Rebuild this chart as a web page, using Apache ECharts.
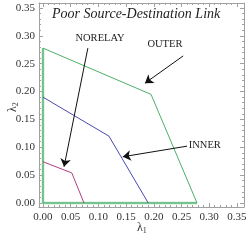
<!DOCTYPE html>
<html><head><meta charset="utf-8">
<script src="https://cdn.jsdelivr.net/npm/echarts@6/dist/echarts.min.js"></script>
<style>html,body{margin:0;padding:0;background:#fff}#c{width:250px;height:241px}</style>
</head><body><div id="c"></div>
<script>
// Data (region vertices, lambda1, lambda2)
const outerX = [0, 0, 0.195, 0.278, 0];
const outerY = [0, 0.278, 0.195, 0, 0];
const innerX = [0, 0.119, 0.19];
const innerY = [0.19, 0.12, 0];
const norelayX = [0, 0.052, 0.074];
const norelayY = [0.074, 0.054, 0];
const axisEdgeX = [0, 0, 0.278];
const axisEdgeY = [0.278, 0, 0];
const tickLabels = [0, 0.05, 0.10, 0.15, 0.20, 0.25, 0.30, 0.35];
const minorTicks = [];
for (let i = 0; i <= 35; i++) minorTicks.push(+(i * 0.01).toFixed(2));
// annotations: [label, textX, textY, fromX, fromY, toX, toY]
const notes = [
  ['NORELAY', 0.103, 0.296, 0.081, 0.278, 0.038, 0.065],
  ['OUTER', 0.220, 0.285, 0.253, 0.264, 0.184, 0.215],
  ['INNER', 0.292, 0.104, 0.260, 0.102, 0.144, 0.083]
];

const zip = (a, b) => a.map((v, i) => [v, b[i]]);
const serif = 'Liberation Serif';
const frame = '#a0a0a0';
const xmin = -0.0072, xmax = 0.3628, ymin = -0.0072, ymax = 0.359;

function mkAxis(kind, pos, major, withLabel) {
  return {
    type: 'value', position: pos, min: kind === 'x' ? xmin : ymin, max: kind === 'x' ? xmax : ymax,
    axisLine: { show: major, onZero: false, lineStyle: { color: frame, width: 1 } },
    splitLine: { show: false },
    axisTick: { show: true, inside: true, length: major ? 4 : 2, customValues: major ? tickLabels : minorTicks, lineStyle: { color: frame } },
    axisLabel: { show: withLabel, customValues: tickLabels, fontFamily: serif, fontSize: 11, color: '#333', margin: kind === 'x' ? 5 : 4,
      formatter: v => v.toFixed(2) }
  };
}
const xAxes = [mkAxis('x', 'bottom', true, true), mkAxis('x', 'bottom', false, false), mkAxis('x', 'top', true, false), mkAxis('x', 'top', false, false)];
const yAxes = [mkAxis('y', 'left', true, true), mkAxis('y', 'left', false, false), mkAxis('y', 'right', true, false), mkAxis('y', 'right', false, false)];

const line = (data, color, width) => ({ type: 'line', data, symbol: 'none', silent: true, animation: false, lineStyle: { color, width } });

const series = [
  line(zip(axisEdgeX, axisEdgeY), '#9fd6b4', 2.5),
  line(zip(outerX, outerY), '#4cb068', 1),
  line(zip(innerX, innerY), '#4a4ab0', 1),
  line(zip(norelayX, norelayY), '#b0407e', 1),
  {
    type: 'line', data: [], animation: false, silent: true,
    markLine: {
      silent: true, animation: false, symbol: ['none', 'arrow'], symbolSize: 8,
      label: { show: false },
      lineStyle: { color: '#111', width: 1, type: 'solid' },
      data: notes.map(n => [{ coord: [n[3], n[4]] }, { coord: [n[5], n[6]] }])
    },
    markPoint: {
      silent: true, animation: false, symbol: 'circle', symbolSize: 0,
      label: { show: true, position: 'inside', fontFamily: serif, fontSize: 10.5, color: '#222', formatter: p => p.name },
      data: notes.map(n => ({ name: n[0], coord: [n[1], n[2]] }))
    }
  }
];

const chart = echarts.init(document.getElementById('c'), null, { renderer: 'canvas' });
const sub = { a: { font: '12px "Liberation Serif"', fill: '#333' }, b: { font: '8px "Liberation Serif"', fill: '#333', padding: [7, 0, 0, 0] } };
chart.setOption({
  animation: false,
  backgroundColor: '#fff',
  grid: { left: 39, right: 6, top: 3, bottom: 34, containLabel: false },
  xAxis: xAxes, yAxis: yAxes, series,
  graphic: [
    { type: 'text', left: 52, top: 7, style: { text: 'Poor Source-Destination Link', font: 'italic 14px "Liberation Serif"', fill: '#222' } },
    { type: 'text', x: 137, y: 220, style: { text: '{a|λ}{b|1}', rich: sub } },
    { type: 'text', x: 5, y: 112, rotation: Math.PI / 2, style: { text: '{a|λ}{b|2}', rich: sub } }
  ]
});
</script></body></html>
